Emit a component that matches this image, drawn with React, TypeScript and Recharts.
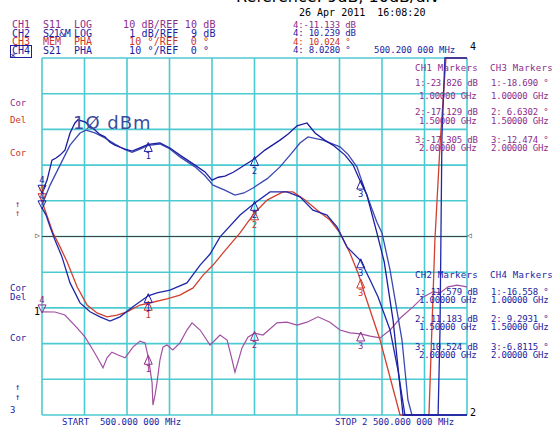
import React from 'react';
import {
  LineChart,
  Line,
  XAxis,
  YAxis,
  CartesianGrid,
  ReferenceLine,
  ReferenceDot,
} from 'recharts';

// sweep 500 MHz .. 2500 MHz, 200 MHz/div
const freqTicks = [500, 700, 900, 1100, 1300, 1500, 1700, 1900, 2100, 2300, 2500];
// phase channels: 10 deg/div, ref 0 deg in the middle
const phaseTicks = [-50, -40, -30, -20, -10, 0, 10, 20, 30, 40, 50];

// CH1 S11 LOG (10 dB/div, ref 10 dB)  [MHz, dB]
const ch1S11 = [
  [500, -11.13], [561, -11.15], [608, -12.0], [665, -15.6], [702, -18.1], [740, -21.8],
  [773, -25.2], [787, -26.8], [806, -24.0], [829, -22.4], [858, -23.2], [891, -24.0],
  [928, -21.0], [961, -19.3], [985, -19.8], [1000, -23.8], [1018, -31.0], [1022, -37.2],
  [1032, -34.4], [1041, -31.0], [1055, -24.6], [1069, -21.0], [1088, -20.4], [1116, -21.8],
  [1149, -19.8], [1182, -16.2], [1206, -14.2], [1244, -16.2], [1291, -20.4], [1338, -17.6],
  [1371, -19.0], [1389, -23.2], [1408, -28.0], [1422, -25.2], [1441, -21.2], [1469, -18.2],
  [1500, -17.1], [1540, -17.6], [1606, -14.2], [1653, -14.0], [1700, -14.8], [1747, -14.0],
  [1799, -12.5], [1855, -14.0], [1902, -16.2], [1949, -17.0], [2000, -17.3], [2044, -17.9],
  [2091, -18.4], [2138, -16.2], [2185, -12.9], [2246, -9.7], [2293, -7.0], [2340, -5.5],
  [2373, -5.8], [2411, -4.1], [2453, -3.6], [2500, -4.1],
];

// CH2 S21 LOG data (1 dB/div, ref 9 dB)  [MHz, dB]
const ch2S21 = [
  [500, 10.24], [524, 10.58], [547, 11.14], [566, 11.2], [585, 11.28], [608, 11.42],
  [632, 11.9], [655, 12.18], [669, 12.27], [702, 12.21], [725, 12.1], [749, 11.98],
  [772, 11.86], [796, 11.79], [820, 11.64], [843, 11.56], [867, 11.5], [891, 11.45],
  [924, 11.39], [961, 11.48], [1000, 11.58], [1055, 11.62], [1102, 11.48], [1149, 11.28],
  [1220, 11.0], [1267, 10.81], [1300, 10.58], [1330, 10.66], [1361, 10.69], [1400, 10.8],
  [1432, 10.92], [1500, 11.18], [1549, 11.42], [1620, 11.7], [1660, 11.88], [1700, 12.1],
  [1747, 12.18], [1785, 11.9], [1830, 11.7], [1869, 11.56], [1926, 11.28], [1964, 11.0],
  [2000, 10.52], [2029, 10.16], [2076, 9.1], [2110, 8.3], [2152, 6.66], [2199, 4.0],
  [2500, 4.0],
];

// CH2 memory trace  [MHz, dB]
const ch2Mem = [
  [500, 9.88], [538, 10.44], [585, 11.0], [632, 11.56], [679, 11.9], [707, 11.98],
  [749, 11.9], [796, 11.76], [843, 11.59], [891, 11.43], [924, 11.36], [961, 11.45],
  [1000, 11.55], [1055, 11.59], [1102, 11.45], [1149, 11.23], [1220, 10.95], [1267, 10.7],
  [1305, 10.44], [1360, 10.3], [1408, 10.16], [1450, 10.22], [1493, 10.36], [1560, 10.62],
  [1620, 10.95], [1670, 11.3], [1714, 11.62], [1752, 11.79], [1822, 11.7], [1902, 11.51],
  [1940, 11.3], [1982, 10.95], [2020, 10.3], [2076, 9.4], [2100, 9.1], [2138, 8.06],
  [2194, 6.1], [2222, 4.42], [2241, 4.0], [2500, 4.0],
];

// CH3 MEM PHA (10 deg/div, ref 0)  [MHz, deg]
const ch3Mem = [
  [500, 10.0], [514, 7.4], [552, 1.0], [585, -2.9], [618, -7.1], [665, -14.1],
  [712, -19.2], [759, -21.4], [806, -22.5], [853, -22.0], [900, -21.1], [961, -19.2],
  [1000, -18.7], [1088, -17.5], [1149, -16.4], [1211, -14.4], [1258, -10.8], [1305, -8.0],
  [1352, -4.6], [1432, 1.0], [1500, 6.6], [1559, 10.2], [1634, 12.5], [1681, 12.5],
  [1738, 10.2], [1794, 7.4], [1855, 4.6], [1902, 1.0], [1949, -4.6], [1987, -10.2],
  [2000, -12.5], [2020, -16.4], [2091, -29.0], [2185, -50], [2321, -50], [2349, -1.0],
  [2373, 25.6], [2401, 50], [2500, 50],
];

// CH4 S21 PHA  [MHz, deg]
const ch4S21 = [
  [500, 8.03], [519, 6.0], [538, 2.7], [561, -1.0], [594, -5.7], [632, -13.0],
  [679, -18.6], [726, -21.1], [773, -22.5], [820, -23.7], [867, -22.5], [928, -19.7],
  [1000, -16.6], [1041, -15.8], [1102, -15.0], [1182, -13.0], [1244, -8.0], [1291, -4.9],
  [1338, -0.1], [1432, 6.0], [1500, 9.3], [1573, 12.5], [1653, 12.5], [1714, 11.1],
  [1775, 7.4], [1841, 6.0], [1888, 2.7], [1935, -2.9], [2000, -6.8], [2044, -12.2],
  [2081, -16.9], [2138, -26.2], [2175, -37.4], [2208, -50], [2364, -50], [2373, -26.2],
  [2382, 27.9], [2396, 50], [2500, 50],
];

// marker readouts
const markerFreqs = [1000, 1500, 2000];
const ch1Markers = [-23.826, -17.129, -17.305];
const ch2Markers = [11.579, 11.183, 10.524];
const ch3Markers = [-18.69, 6.6302, -12.474];
const ch4Markers = [-16.558, 9.2931, -6.8115];
const m4Freq = 500.2;
const m4Values = [-11.133, 10.239, 10.024, 8.028];

const PURPLE = '#8c2c8c';
const BLUE = '#1c1ca4';
const RED = '#cc3526';
const GRID = '#4ccad2';
const MONO = '"DejaVu Sans Mono", monospace';

const pts = (arr: number[][]) => arr.map(([f, v]) => ({ f, v }));

const markerUp = (label: string, color: string) => (p: any) => {
  const { cx, cy } = p;
  return (
    <g>
      <path d={`M${cx},${cy - 2} L${cx - 4},${cy + 7} L${cx + 4},${cy + 7} Z`} fill="none" stroke={color} strokeWidth={1} />
      <text x={cx} y={cy + 15} fontSize={9} fill={color} textAnchor="middle" fontFamily={MONO}>{label}</text>
    </g>
  );
};

const markerDown = (label: string, color: string) => (p: any) => {
  const { cx, cy } = p;
  return (
    <g>
      <path d={`M${cx},${cy + 1} L${cx - 4},${cy - 7} L${cx + 4},${cy - 7} Z`} fill="none" stroke={color} strokeWidth={1} />
      <text x={cx} y={cy - 9} fontSize={9} fill={color} textAnchor="middle" fontFamily={MONO}>{label}</text>
    </g>
  );
};

function T({ x, y, c = '#000', s = 10, ls = 0, children }: any) {
  return (
    <div
      style={{
        position: 'absolute',
        left: x,
        top: y - s / 2 - 1,
        color: c,
        fontSize: s,
        lineHeight: `${s + 2}px`,
        fontFamily: MONO,
        letterSpacing: ls,
        whiteSpace: 'pre',
      }}
    >
      {children}
    </div>
  );
}

export default function App() {
  const mk = (
    yAxisId: string,
    values: number[],
    color: string,
    keyPrefix: string,
  ) =>
    markerFreqs.map((f, i) => (
      <ReferenceDot
        key={`${keyPrefix}${i}`}
        x={f}
        y={values[i]}
        yAxisId={yAxisId}
        r={0}
        shape={markerUp(String(i + 1), color)}
      />
    ));

  return (
    <div style={{ position: 'absolute', left: 0, top: 0, width: 554, height: 427, background: '#fff', overflow: 'hidden' }}>
      <LineChart width={554} height={427} margin={{ top: 58, right: 87, bottom: 12, left: 42 }}>
        <XAxis type="number" dataKey="f" domain={[500, 2500]} ticks={freqTicks} hide />
        <YAxis yAxisId="ph" type="number" domain={[-50, 50]} ticks={phaseTicks} hide />
        <YAxis yAxisId="ch1" type="number" domain={[-40, 60]} hide />
        <YAxis yAxisId="ch2" type="number" domain={[4, 14]} hide />
        <CartesianGrid yAxisId="ph" stroke={GRID} strokeWidth={1.6} />
        <ReferenceLine yAxisId="ph" y={0} stroke="#444" strokeWidth={1.2} />

        <Line data={pts(ch1S11)} dataKey="v" yAxisId="ch1" stroke="#a050a2" strokeWidth={1.2} dot={false} isAnimationActive={false} />
        <Line data={pts(ch3Mem)} dataKey="v" yAxisId="ph" stroke="#d2402e" strokeWidth={1.3} dot={false} isAnimationActive={false} />
        <Line data={pts(ch4S21)} dataKey="v" yAxisId="ph" stroke="#2028aa" strokeWidth={1.3} dot={false} isAnimationActive={false} />
        <Line data={pts(ch2Mem)} dataKey="v" yAxisId="ch2" stroke="#3a48b4" strokeWidth={1.3} dot={false} isAnimationActive={false} />
        <Line data={pts(ch2S21)} dataKey="v" yAxisId="ch2" stroke="#1c1ca0" strokeWidth={1.3} dot={false} isAnimationActive={false} />

        {mk('ch1', ch1Markers, PURPLE, 'a')}
        {mk('ch2', ch2Markers, BLUE, 'b')}
        {mk('ph', ch3Markers, RED, 'c')}
        {mk('ph', ch4Markers, BLUE, 'd')}
        <ReferenceDot x={m4Freq} y={m4Values[0]} yAxisId="ch1" r={0} shape={markerDown('4', PURPLE)} />
        <ReferenceDot x={m4Freq} y={m4Values[1]} yAxisId="ch2" r={0} shape={markerDown('4', BLUE)} />
        <ReferenceDot x={m4Freq} y={m4Values[2]} yAxisId="ph" r={0} shape={markerDown('4', RED)} />
        <ReferenceDot x={m4Freq} y={m4Values[3]} yAxisId="ph" r={0} shape={markerDown('4', BLUE)} />
      </LineChart>

      {/* clipped title at the very top */}
      <div style={{ position: 'absolute', left: 236, top: -12, fontSize: 16, lineHeight: '18px', fontFamily: '"DejaVu Sans", sans-serif', whiteSpace: 'pre' }}>
        Reference: 9dB, 10dB/div
      </div>

      {/* channel header */}
      <T x={12} y={25} c={PURPLE}>CH1</T>
      <T x={43} y={25} c={PURPLE}>S11</T>
      <T x={74} y={25} c={PURPLE}>LOG</T>
      <T x={123} y={25} c={PURPLE} ls={0.15}>10 dB/REF 10 dB</T>
      <T x={12} y={33.5} c={BLUE}>CH2</T>
      <T x={43} y={33.5} c={BLUE} ls={-0.6}>S21&M</T>
      <T x={74} y={33.5} c={BLUE}>LOG</T>
      <T x={123} y={33.5} c={BLUE} ls={0.15}> 1 dB/REF  9 dB</T>
      <T x={12} y={42} c={RED}>CH3</T>
      <T x={43} y={42} c={RED}>MEM</T>
      <T x={74} y={42} c={RED}>PHA</T>
      <T x={129} y={42} c={RED} ls={0.15}>10 °/REF  0 °</T>
      <T x={12} y={50.5} c={BLUE}>CH4</T>
      <div style={{ position: 'absolute', left: 10, top: 44.5, width: 20, height: 11, border: `1px solid ${BLUE}` }} />
      <T x={43} y={50.5} c={BLUE}>S21</T>
      <T x={74} y={50.5} c={BLUE}>PHA</T>
      <T x={129} y={50.5} c={BLUE} ls={0.15}>10 °/REF  0 °</T>
      <T x={10} y={58} c={BLUE}>*</T>

      <T x={299} y={13}>26 Apr 2011  16:08:20</T>
      <T x={293} y={25} c={PURPLE} s={9} ls={-0.2}>4:-11.133 dB</T>
      <T x={293} y={33.5} c={BLUE} s={9} ls={-0.2}>4: 10.239 dB</T>
      <T x={293} y={42} c={RED} s={9} ls={-0.2}>4: 10.024 °</T>
      <T x={293} y={50.5} c={BLUE} s={9} ls={-0.2}>4: 8.0280 °</T>
      <T x={374} y={50.5} c={BLUE} s={9}>500.200 000 MHz</T>

      {/* marker tables */}
      <T x={415} y={68} c={PURPLE} s={9} ls={0.3}>CH1 Markers</T>
      <T x={490} y={68} c={PURPLE} s={9} ls={0.3}>CH3 Markers</T>
      <T x={415} y={83} c={PURPLE} s={9} ls={-0.2}>1:-23.826 dB</T>
      <T x={419} y={96} c={PURPLE} s={9} ls={-0.2}>1.00000 GHz</T>
      <T x={415} y={112} c={PURPLE} s={9} ls={-0.2}>2:-17.129 dB</T>
      <T x={419} y={121} c={PURPLE} s={9} ls={-0.2}>1.50000 GHz</T>
      <T x={415} y={140} c={PURPLE} s={9} ls={-0.2}>3:-17.305 dB</T>
      <T x={419} y={148} c={PURPLE} s={9} ls={-0.2}>2.00000 GHz</T>
      <T x={491} y={83} c={PURPLE} s={9} ls={-0.2}>1:-18.690 °</T>
      <T x={491} y={96} c={PURPLE} s={9} ls={-0.2}>1.00000 GHz</T>
      <T x={491} y={112} c={PURPLE} s={9} ls={-0.2}>2: 6.6302 °</T>
      <T x={491} y={121} c={PURPLE} s={9} ls={-0.2}>1.50000 GHz</T>
      <T x={491} y={140} c={PURPLE} s={9} ls={-0.2}>3:-12.474 °</T>
      <T x={491} y={148} c={PURPLE} s={9} ls={-0.2}>2.00000 GHz</T>

      <T x={415} y={275} c={BLUE} s={9} ls={0.3}>CH2 Markers</T>
      <T x={490} y={275} c={BLUE} s={9} ls={0.3}>CH4 Markers</T>
      <T x={415} y={292} c={BLUE} s={9} ls={-0.2}>1: 11.579 dB</T>
      <T x={419} y={300} c={BLUE} s={9} ls={-0.2}>1.00000 GHz</T>
      <T x={415} y={319} c={BLUE} s={9} ls={-0.2}>2: 11.183 dB</T>
      <T x={419} y={327} c={BLUE} s={9} ls={-0.2}>1.50000 GHz</T>
      <T x={415} y={347} c={BLUE} s={9} ls={-0.2}>3: 10.524 dB</T>
      <T x={419} y={355} c={BLUE} s={9} ls={-0.2}>2.00000 GHz</T>
      <T x={491} y={292} c={BLUE} s={9} ls={-0.2}>1:-16.558 °</T>
      <T x={491} y={300} c={BLUE} s={9} ls={-0.2}>1.00000 GHz</T>
      <T x={491} y={319} c={BLUE} s={9} ls={-0.2}>2: 9.2931 °</T>
      <T x={491} y={327} c={BLUE} s={9} ls={-0.2}>1.50000 GHz</T>
      <T x={491} y={347} c={BLUE} s={9} ls={-0.2}>3:-6.8115 °</T>
      <T x={491} y={355} c={BLUE} s={9} ls={-0.2}>2.00000 GHz</T>

      {/* left annotations */}
      <T x={10} y={103} c={PURPLE} s={9}>Cor</T>
      <T x={10} y={120} c={RED} s={9}>Del</T>
      <T x={10} y={153} c={RED} s={9}>Cor</T>
      <T x={15} y={204} c={PURPLE} s={9}>↑</T>
      <T x={15} y={213} c={RED} s={9}>↑</T>
      <T x={10} y={288} c={BLUE} s={9}>Cor</T>
      <T x={10} y={297} c={BLUE} s={9}>Del</T>
      <T x={34} y={312} s={10}>1</T>
      <T x={10} y={338} c={BLUE} s={9}>Cor</T>
      <T x={15} y={387} c={BLUE} s={9}>↑</T>
      <T x={15} y={397} c={BLUE} s={9}>↑</T>
      <T x={10} y={410} c={BLUE} s={9}>3</T>
      <T x={35} y={236} c="#444" s={8}>▷</T>
      <T x={467} y={236} c="#444" s={8}>◁</T>
      <T x={470} y={47}>4</T>
      <T x={470} y={413}>2</T>

      <div style={{ position: 'absolute', left: 73, top: 112, fontSize: 18, color: '#3c4ca0', fontFamily: '"DejaVu Sans", sans-serif', whiteSpace: 'pre', letterSpacing: 1 }}>
        1Ø dBm
      </div>

      <T x={62} y={422} c={BLUE} s={9}>START  500.000 000 MHz</T>
      <T x={335} y={422} c={BLUE} s={9}>STOP 2 500.000 000 MHz</T>
    </div>
  );
}
